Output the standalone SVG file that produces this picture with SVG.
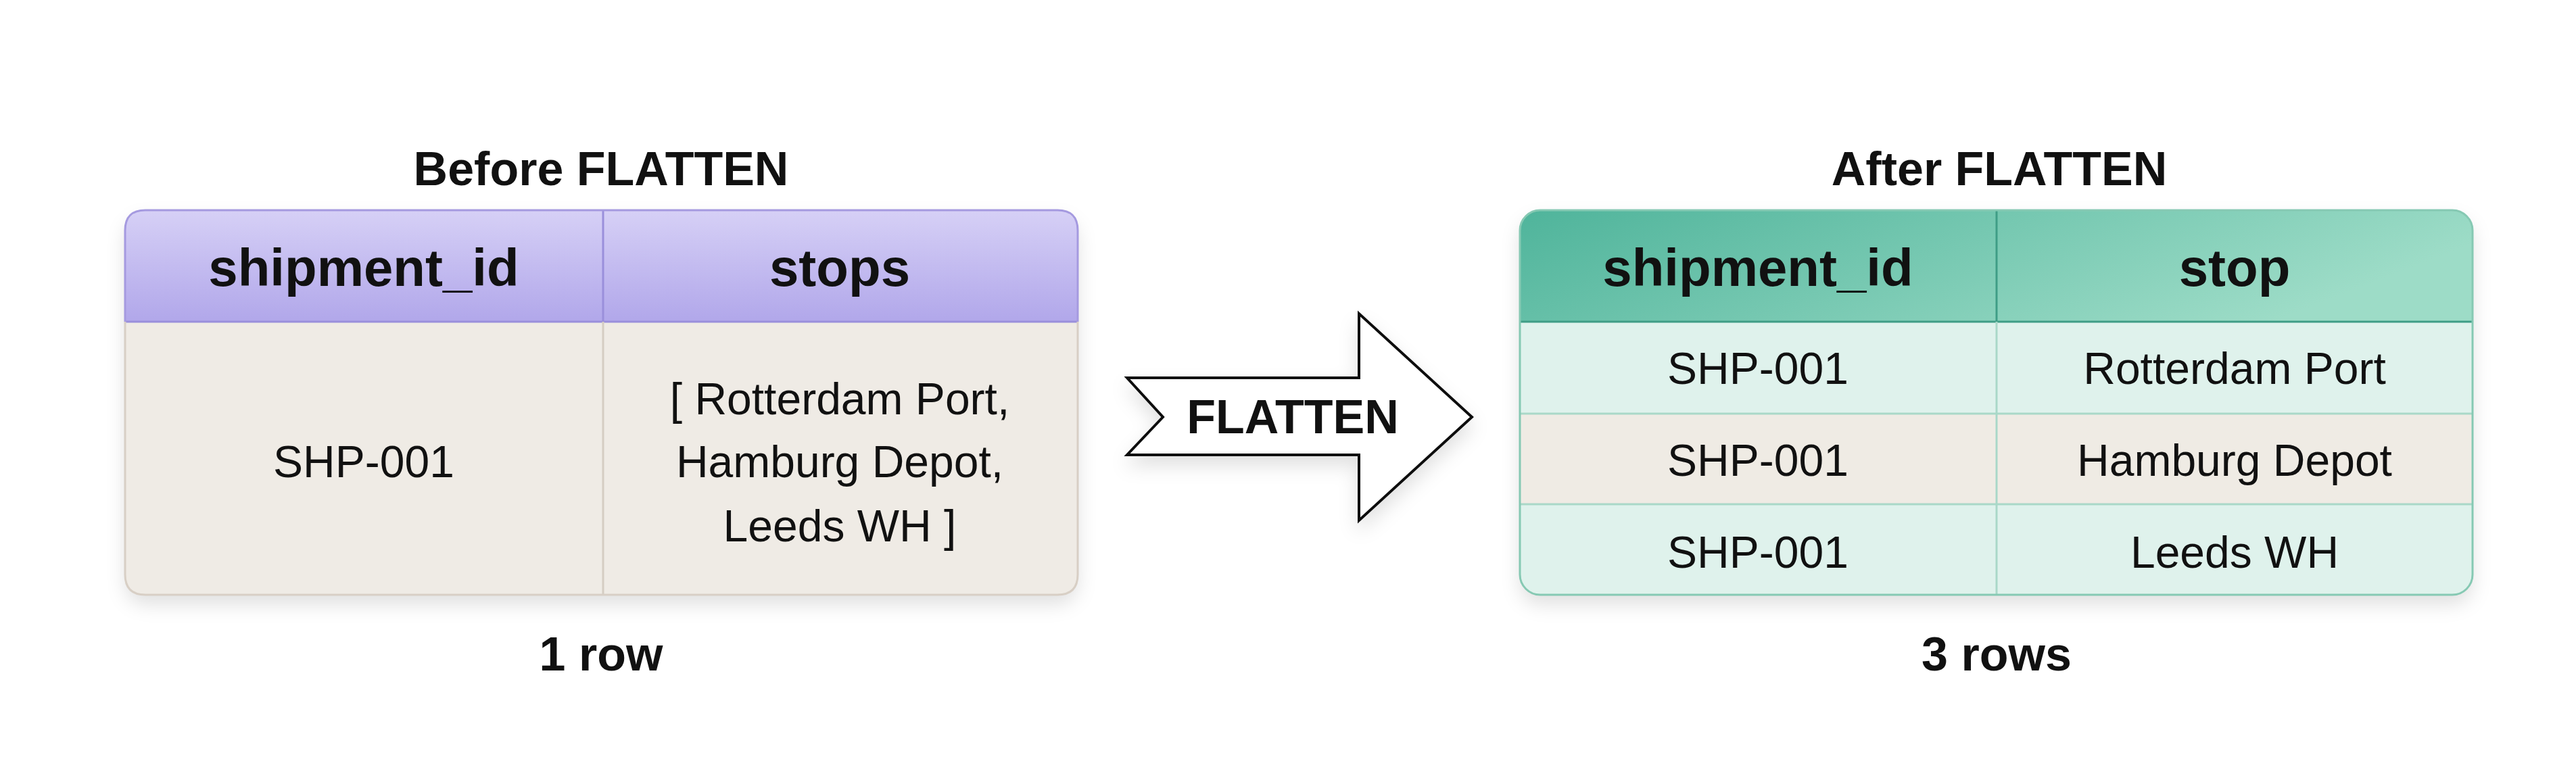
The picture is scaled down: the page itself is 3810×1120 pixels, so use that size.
<svg xmlns="http://www.w3.org/2000/svg" width="3810" height="1120" viewBox="0 0 3810 1120">
<style>
text{font-family:"Liberation Sans",Arial,sans-serif;fill:#111;text-anchor:middle;dominant-baseline:central}
.t{font-weight:bold;font-size:70px}
.h{font-weight:bold;font-size:78px}
.c{font-size:66px}
</style>
<defs>
<linearGradient id="gp" x1="0" y1="0" x2="0" y2="1"><stop offset="0" stop-color="#d6d0f6"/><stop offset="1" stop-color="#b1a7ea"/></linearGradient>
<linearGradient id="gg" x1="0" y1="0" x2="1" y2="0.3"><stop offset="0" stop-color="#4fb49b"/><stop offset="1" stop-color="#9ddcc7"/></linearGradient>
<filter id="sh" x="-10%" y="-10%" width="120%" height="130%"><feDropShadow dx="0" dy="14" stdDeviation="14" flood-color="#000" flood-opacity="0.12"/></filter>
<clipPath id="cl"><rect x="185" y="311" width="1409" height="569" rx="30"/></clipPath>
<clipPath id="cr"><rect x="2248" y="311" width="1409" height="569" rx="30"/></clipPath>
</defs>
<rect width="3810" height="1120" fill="#fff"/>
<g id="before">
<text class="t" x="889" y="250">Before FLATTEN</text>
<rect x="185" y="311" width="1409" height="569" rx="30" fill="#efebe5" filter="url(#sh)"/>
<g clip-path="url(#cl)">
<rect x="185" y="311" width="1409" height="165" fill="url(#gp)"/>
<line x1="185" y1="476" x2="1594" y2="476" stroke="#9a8fdb" stroke-width="3"/>
<line x1="892" y1="311" x2="892" y2="476" stroke="#9a8fdb" stroke-width="3"/>
<line x1="892" y1="476" x2="892" y2="880" stroke="#d5cdc3" stroke-width="3"/>
</g>
<path d="M185,476 V850 Q185,880 215,880 H1564 Q1594,880 1594,850 V476" fill="none" stroke="#d8cfc5" stroke-width="3"/>
<path d="M185,476 V341 Q185,311 215,311 H1564 Q1594,311 1594,341 V476" fill="none" stroke="#a59ae0" stroke-width="3"/>
<text class="h" x="538" y="396">shipment_id</text>
<text class="h" x="1242" y="396">stops</text>
<text class="c" x="538" y="683">SHP-001</text>
<text class="c" x="1242" y="590">[ Rotterdam Port,</text>
<text class="c" x="1242" y="683">Hamburg Depot,</text>
<text class="c" x="1242" y="778">Leeds WH ]</text>
<text class="t" x="889" y="968">1 row</text>
</g>
<g id="arrow">
<polygon points="1667,559 2010,559 2010,464 2177,617 2010,770 2010,673 1667,673 1720,617" fill="#fff" stroke="#111" stroke-width="4" stroke-linejoin="miter" filter="url(#sh)"/>
<text class="t" x="1912" y="617">FLATTEN</text>
</g>
<g id="after">
<text class="t" x="2957" y="250">After FLATTEN</text>
<rect x="2248" y="311" width="1409" height="569" rx="30" fill="#dff2ec" filter="url(#sh)"/>
<g clip-path="url(#cr)">
<rect x="2248" y="311" width="1409" height="165" fill="url(#gg)"/>
<rect x="2248" y="612" width="1409" height="134" fill="#efebe4"/>
<line x1="2248" y1="476" x2="3657" y2="476" stroke="#3f9d86" stroke-width="3"/>
<line x1="2248" y1="612" x2="3657" y2="612" stroke="#a9d8c8" stroke-width="3"/>
<line x1="2248" y1="746" x2="3657" y2="746" stroke="#a9d8c8" stroke-width="3"/>
<line x1="2953" y1="311" x2="2953" y2="476" stroke="#3f9d86" stroke-width="3"/>
<line x1="2953" y1="476" x2="2953" y2="880" stroke="#a9d8c8" stroke-width="3"/>
</g>
<rect x="2248" y="311" width="1409" height="569" rx="30" fill="none" stroke="#86c9b3" stroke-width="3"/>
<text class="h" x="2600" y="396">shipment_id</text>
<text class="h" x="3305" y="396">stop</text>
<text class="c" x="2600" y="545">SHP-001</text>
<text class="c" x="3305" y="545">Rotterdam Port</text>
<text class="c" x="2600" y="681">SHP-001</text>
<text class="c" x="3305" y="681">Hamburg Depot</text>
<text class="c" x="2600" y="817">SHP-001</text>
<text class="c" x="3305" y="817">Leeds WH</text>
<text class="t" x="2953" y="968">3 rows</text>
</g>
</svg>
